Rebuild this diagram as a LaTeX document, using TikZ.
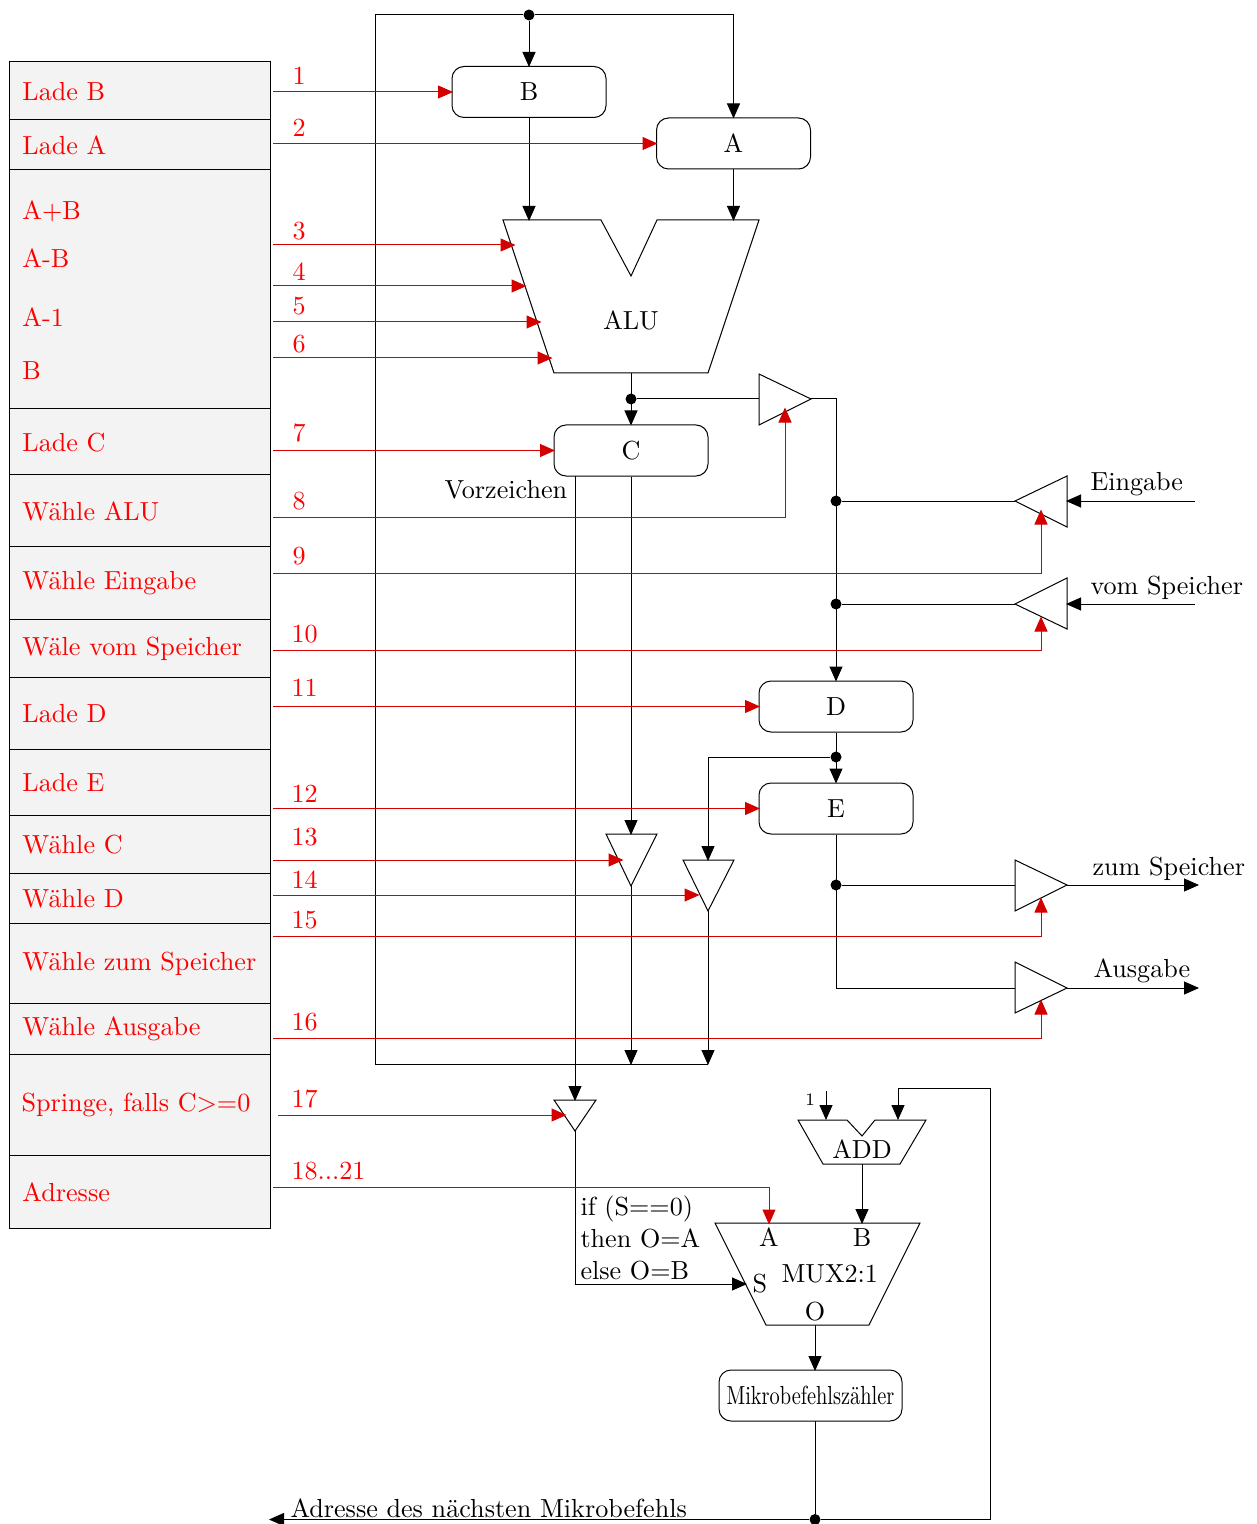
\documentclass[tikz,border=0pt]{standalone}
\usetikzlibrary{arrows.meta}
\definecolor{wirered}{HTML}{D40000}
\definecolor{textred}{HTML}{FF0000}
\definecolor{rowfill}{HTML}{F3F3F3}
\tikzset{
  wire/.style={draw=black,line width=0.4pt},
  arr/.style={wire,shorten >=-0.4pt,-{Triangle[length=6pt,width=5.2pt]}},
  ctl/.style={draw=wirered,line width=0.4pt,shorten >=-0.6pt,-{Triangle[length=6pt,width=5.2pt,fill=wirered]}},
  row/.style={draw=black,fill=rowfill,line width=0.4pt},
  reg/.style={draw=black,line width=0.4pt,rounded corners=4.8pt,inner sep=0pt,minimum width=61.6pt,minimum height=20.4pt,font=\fs},
  part/.style={draw=black,line width=0.4pt,line join=miter},
  rlab/.style={anchor=base west,inner sep=0pt,text=textred,font=\fs,xshift=-0.4pt,yshift=-0.4pt},
  blab/.style={anchor=base west,inner sep=0pt,text=black,font=\fs,xshift=-0.4pt,yshift=-0.4pt},
  clab/.style={anchor=base,inner sep=0pt,text=black,font=\fs,yshift=-0.4pt},
  dot/.style={circle,fill=black,inner sep=0pt,minimum size=4.4pt}
}
\newcommand{\fs}{\fontsize{10.45}{13}\selectfont}
\begin{document}
\begin{tikzpicture}[x=0.4pt,y=-0.4pt]
\useasboundingbox (0,0) rectangle (1257,1524);
% control table
\path[row] (9.5,62) rectangle (270,119.5);
\path[row] (9.5,119.5) rectangle (270,170);
\path[row] (9.5,170) rectangle (270,409);
\path[row] (9.5,409) rectangle (270,474);
\path[row] (9.5,474) rectangle (270,546);
\path[row] (9.5,546) rectangle (270,619);
\path[row] (9.5,619) rectangle (270,677);
\path[row] (9.5,677) rectangle (270,749);
\path[row] (9.5,749) rectangle (270,815);
\path[row] (9.5,815) rectangle (270,873);
\path[row] (9.5,873) rectangle (270,923);
\path[row] (9.5,923) rectangle (270,1003);
\path[row] (9.5,1003) rectangle (270,1054);
\path[row] (9.5,1054) rectangle (270,1155);
\path[row] (9.5,1155) rectangle (270,1228);
\node[rlab] (t1) at (23,100) {Lade B};
\node[rlab] (t2) at (23,154) {Lade A};
\node[rlab] (t3) at (23,219) {A+B};
\node[rlab] (t4) at (23,267) {A-B};
\node[rlab] (t5) at (23,326) {A-1};
\node[rlab] (t6) at (23,379) {B};
\node[rlab] (t7) at (23,450) {Lade C};
\node[rlab] (t8) at (23,519) {Wähle ALU};
\node[rlab] (t9) at (23,588) {Wähle Eingabe};
\node[rlab] (t10) at (23,654) {Wäle vom Speicher};
\node[rlab] (t11) at (23,721) {Lade D};
\node[rlab] (t12) at (23,790) {Lade E};
\node[rlab] (t13) at (23,852) {Wähle C};
\node[rlab] (t14) at (23,906) {Wähle D};
\node[rlab] (t15) at (23,969) {Wähle zum Speicher};
\node[rlab] (t16) at (23,1034) {Wähle Ausgabe};
\node[rlab] (t17) at (22,1110) {Springe, falls C>=0};
\node[rlab] (t18) at (23,1200) {Adresse};
% numbers
\node[rlab] (n1) at (293,84) {1};
\node[rlab] (n2) at (293,136) {2};
\node[rlab] (n3) at (293,239) {3};
\node[rlab] (n4) at (293,280) {4};
\node[rlab] (n5) at (293,314) {5};
\node[rlab] (n6) at (293,352) {6};
\node[rlab] (n7) at (293,440) {7};
\node[rlab] (n8) at (293,508) {8};
\node[rlab] (n9) at (293,563) {9};
\node[rlab] (n10) at (292,641) {10};
\node[rlab] (n11) at (292,695) {11};
\node[rlab] (n12) at (292,801) {12};
\node[rlab] (n13) at (292,844) {13};
\node[rlab] (n14) at (292,887) {14};
\node[rlab] (n15) at (292,927) {15};
\node[rlab] (n16) at (292,1029) {16};
\node[rlab] (n17) at (292,1106) {17};
\node[rlab] (n18) at (292,1178) {18...21};
% registers
\node[reg] (B) at (529,92) {B};
\node[reg] (A) at (733.5,143.5) {A};
\node[reg] (C) at (631,450.5) {C};
\node[reg] (D) at (836,706.5) {D};
\node[reg] (E) at (836,808.5) {E};
\node[reg,minimum width=73.2pt] (M) at (810.5,1395.5) {\scalebox{0.78}[1]{Mikrobefehlszähler}};
% ALU, MUX, ADD
\path[part] (503,220) -- (601,220) -- (631,276) -- (657,220) -- (759,220) -- (708,373) -- (554,373) -- cycle;
\node[clab] (alu) at (631,329) {ALU};
\path[part] (715,1223) -- (920,1223) -- (869,1325) -- (766,1325) -- cycle;
\node[clab] (muxA) at (769,1245) {A};
\node[clab] (muxB) at (862,1245) {B};
\node[blab] (mux) at (782,1281) {MUX2:1};
\node[blab] (muxS) at (753,1291) {S};
\node[clab] (muxO) at (815,1319) {O};
\path[part] (798,1120) -- (847,1120) -- (862,1136) -- (875,1120) -- (926,1120) -- (900,1164) -- (823,1164) -- cycle;
\node[clab] (add) at (862,1157) {ADD};
\node[anchor=base,inner sep=0pt,font=\scriptsize] (one) at (810,1105) {1};
% drivers
\path[part] (759,374) -- (759,425) -- (811,399) -- cycle;
\path[part] (1067,476) -- (1067,527) -- (1015,501) -- cycle;
\path[part] (1067,578) -- (1067,629) -- (1015,604) -- cycle;
\path[part] (606,834) -- (657,834) -- (631,886) -- cycle;
\path[part] (683,860) -- (734,860) -- (708,911) -- cycle;
\path[part] (1015,860) -- (1015,911) -- (1067,885) -- cycle;
\path[part] (1015,962) -- (1015,1013) -- (1067,988) -- cycle;
\path[part] (554,1100) -- (596,1100) -- (575,1131) -- cycle;
% ports and junctions
\node[dot] (j0) at (529,15) {};
\node[dot] (j1) at (631,399) {};
\node[dot] (j2) at (836,501) {};
\node[dot] (j3) at (836,604) {};
\node[dot] (j4) at (836,757) {};
\node[dot] (j5) at (836,885) {};
\node[dot] (j6) at (815,1519.5) {};
\coordinate (tl) at (375,15);
\coordinate (tr) at (733.5,15);
\coordinate (bl) at (375,1064);
\coordinate (bm) at (631,1064);
\coordinate (br) at (708,1064);
\coordinate (aluB) at (529,220);
\coordinate (aluA) at (733.5,220);
\coordinate (aluO) at (631,373);
\coordinate (aluS1) at (514,245);
\coordinate (aluS2) at (525,286);
\coordinate (aluS3) at (540,322);
\coordinate (aluS4) at (551,358);
\coordinate (d1i) at (759,399);
\coordinate (d1o) at (811,399);
\coordinate (d1c) at (785,409);
\coordinate (c1) at (836,399);
\coordinate (d2i) at (1067,501);
\coordinate (d2o) at (1015,501);
\coordinate (d2c) at (1041,511);
\coordinate (d3i) at (1067,604);
\coordinate (d3o) at (1015,604);
\coordinate (d3c) at (1041,618);
\coordinate (in1) at (1195,501);
\coordinate (in2) at (1195,604);
\coordinate (d4i) at (631,834);
\coordinate (d4o) at (631,886);
\coordinate (d4c) at (622,860);
\coordinate (d5i) at (708,860);
\coordinate (d5o) at (708,911);
\coordinate (d5c) at (698,895);
\coordinate (c2) at (708,757);
\coordinate (d6i) at (1015,885);
\coordinate (d6o) at (1067,885);
\coordinate (d6c) at (1041,899);
\coordinate (d7i) at (1015,988);
\coordinate (d7o) at (1067,988);
\coordinate (d7c) at (1041,1001);
\coordinate (c3) at (836,988);
\coordinate (out1) at (1198,885);
\coordinate (out2) at (1198,988);
\coordinate (sgn) at (575,476);
\coordinate (d8i) at (575,1100);
\coordinate (d8o) at (575,1131);
\coordinate (d8c) at (565,1115);
\coordinate (c4) at (575,1284);
\coordinate (muxs) at (746,1284);
\coordinate (muxa) at (769,1223);
\coordinate (muxb) at (862,1223);
\coordinate (muxo) at (815,1325);
\coordinate (addo) at (862,1164);
\coordinate (adda) at (826,1119);
\coordinate (addas) at (826,1091);
\coordinate (addb) at (898,1119);
\coordinate (c5) at (898,1088);
\coordinate (c6) at (990,1088);
\coordinate (c7) at (990,1519.5);
\coordinate (nxt) at (270,1519.5);
\coordinate (pco) at (815,1421);
\coordinate (pci) at (815,1370);
\coordinate (r1) at (273,92);
\coordinate (r2) at (273,143.5);
\coordinate (r3) at (273,245);
\coordinate (r4) at (273,286);
\coordinate (r5) at (273,322);
\coordinate (r6) at (273,358);
\coordinate (r7) at (273,450.5);
\coordinate (r8) at (273,517);
\coordinate (r9) at (273,573);
\coordinate (r10) at (273,650);
\coordinate (r11) at (273,706.5);
\coordinate (r12) at (273,808.5);
\coordinate (r13) at (273,860);
\coordinate (r14) at (273,895);
\coordinate (r15) at (273,936);
\coordinate (r16) at (273,1038);
\coordinate (r17) at (278,1115);
\coordinate (r18) at (273,1187);
% data wires
\path[wire] (bm) -- (br);
\path[wire] (br) -- (bl) -- (tl) -- (j0);
\path[arr] (j0) -- (B.north);
\path[arr] (j0) -- (tr) -- (A.north);
\path[arr] (B.south) -- (aluB);
\path[arr] (A.south) -- (aluA);
\path[arr] (aluO) -- (C.north);
\path[wire] (j1) -- (d1i);
\path[arr] (d1o) -- (c1) -- (D.north);
\path[wire] (j2) -- (d2o);
\path[wire] (j3) -- (d3o);
\path[arr] (in1) -- (d2i);
\path[arr] (in2) -- (d3i);
\path[arr] (D.south) -- (E.north);
\path[arr] (j4) -- (c2) -- (d5i);
\path[wire] (E.south) -- (c3) -- (d7i);
\path[wire] (j5) -- (d6i);
\path[arr] (d6o) -- (out1);
\path[arr] (d7o) -- (out2);
\path[arr] (C.south) -- (d4i);
\path[arr] (d4o) -- (bm);
\path[arr] (d5o) -- (br);
\path[arr] (sgn) -- (d8i);
\path[arr] (d8o) -- (c4) -- (muxs);
\path[arr] (addo) -- (muxb);
\path[arr] (addas) -- (adda);
\path[arr] (muxo) -- (pci);
\path[wire] (pco) -- (j6);
\path[arr] (j6) -- (nxt);
\path[arr] (j6) -- (c7) -- (c6) -- (c5) -- (addb);
% control wires
\path[ctl] (r1) -- (B.west);
\path[ctl] (r2) -- (A.west);
\path[ctl] (r3) -- (aluS1);
\path[ctl] (r4) -- (aluS2);
\path[ctl] (r5) -- (aluS3);
\path[ctl] (r6) -- (aluS4);
\path[ctl] (r7) -- (C.west);
\path[ctl] (r8) -| (d1c);
\path[ctl] (r9) -| (d2c);
\path[ctl] (r10) -| (d3c);
\path[ctl] (r11) -- (D.west);
\path[ctl] (r12) -- (E.west);
\path[ctl] (r13) -- (d4c);
\path[ctl] (r14) -- (d5c);
\path[ctl] (r15) -| (d6c);
\path[ctl] (r16) -| (d7c);
\path[ctl] (r17) -- (d8c);
\path[ctl] (r18) -| (muxa);
% black labels
\node[blab] (vz) at (445,497) {Vorzeichen};
\node[blab] (eg) at (1091,489) {Eingabe};
\node[blab] (vs) at (1091,593) {vom Speicher};
\node[blab] (zs) at (1093,874) {zum Speicher};
\node[blab] (ag) at (1094,976) {Ausgabe};
\node[blab] (if) at (581,1214) {if (S==0)};
\node[blab] (th) at (581,1246) {then O=A};
\node[blab] (el) at (581,1278) {else O=B};
\node[blab] (nm) at (291,1516) {Adresse des nächsten Mikrobefehls};
\end{tikzpicture}
\end{document}
